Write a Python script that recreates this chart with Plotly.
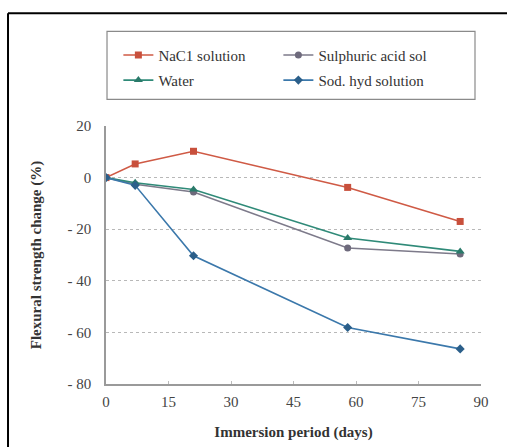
import plotly.graph_objects as go

# Immersion periods (days) and flexural strength change (%) per exposure medium
days = [0, 7, 21, 58, 85]
nacl = [0, 5.3, 10.2, -3.8, -17.0]
water = [0, -2.0, -4.6, -23.4, -28.6]
sulphuric = [0, -2.6, -5.6, -27.3, -29.6]
sod_hyd = [0, -3.0, -30.3, -58.1, -66.4]

series_names = ["NaC1 solution", "Sulphuric acid sol", "Water", "Sod. hyd solution"]
x_ticks = [0, 15, 30, 45, 60, 75, 90]
y_ticks = [-80, -60, -40, -20, 0, 20]
y_ticktext = ["- 80", "- 60", "- 40", "- 20", "0", "20"]

serif = "Liberation Serif"

styles = {
    "NaC1 solution": dict(y=nacl, color="#cf5a45", mcolor="#c8503c", symbol="square", size=7, legend="legend"),
    "Sulphuric acid sol": dict(y=sulphuric, color="#7d7a8a", mcolor="#6e6a7c", symbol="circle", size=7, legend="legend"),
    "Water": dict(y=water, color="#2f8a78", mcolor="#2a7a6a", symbol="triangle-up", size=8, legend="legend2"),
    "Sod. hyd solution": dict(y=sod_hyd, color="#3b78ab", mcolor="#2b5f8a", symbol="diamond", size=7, legend="legend2"),
}

fig = go.Figure()
for name in series_names:
    s = styles[name]
    fig.add_trace(go.Scatter(
        x=days, y=s["y"], name=name, mode="lines+markers",
        line=dict(color=s["color"], width=1.6),
        marker=dict(symbol=s["symbol"], size=s["size"], color=s["mcolor"]),
        legend=s["legend"],
    ))

legend_common = dict(
    orientation="h", xanchor="left", yanchor="middle",
    bgcolor="rgba(0,0,0,0)", borderwidth=0, entrywidth=115,
    font=dict(size=15, family=serif, color="#333333"),
)

fig.update_layout(
    width=507, height=447,
    margin=dict(l=106, r=26, t=126, b=63, autoexpand=False),
    paper_bgcolor="white", plot_bgcolor="white",
    font=dict(family=serif, color="#333333"),
    showlegend=True,
    legend=dict(x=0.033, y=1.274, **legend_common),
    legend2=dict(x=0.033, y=1.177, **legend_common),
    xaxis=dict(
        range=[0, 90], tickvals=x_ticks, showgrid=False, zeroline=False,
        showline=True, linecolor="#9a9a9a", linewidth=1.5,
        ticks="inside", ticklen=3, tickcolor="#bbbbbb",
        ticklabelstandoff=3, automargin=False,
        tickfont=dict(size=15, family=serif, color="#444444"),
        title=dict(text="<b>Immersion period (days)</b>", standoff=18,
                   font=dict(size=15, family=serif, color="#333333")),
    ),
    yaxis=dict(
        range=[-80, 20], tickvals=y_ticks, ticktext=y_ticktext,
        showgrid=True, griddash="dot", gridcolor="#b8b8b8", gridwidth=1.2,
        zeroline=False, showline=True, linecolor="#9a9a9a", linewidth=1.5,
        ticks="", ticklabelstandoff=10, automargin=False,
        tickfont=dict(size=15, family=serif, color="#444444"),
        title=dict(text="<b>Flexural strength change (%)</b>", standoff=22,
                   font=dict(size=15, family=serif, color="#333333")),
    ),
)

# Legend border box
fig.add_shape(type="rect", xref="paper", yref="paper",
              x0=0.0027, x1=0.984, y0=1.103, y1=1.367,
              line=dict(color="#8a8a8a", width=1.2), fillcolor="rgba(0,0,0,0)")

# Black frame along the left and top edges of the figure
fig.add_shape(type="line", xref="paper", yref="paper",
              x0=-0.2613, x1=1.2, y0=1.437, y1=1.437,
              line=dict(color="black", width=2))
fig.add_shape(type="line", xref="paper", yref="paper",
              x0=-0.2613, x1=-0.2613, y0=-0.4, y1=1.437,
              line=dict(color="black", width=2))

fig.write_html("out.html")
